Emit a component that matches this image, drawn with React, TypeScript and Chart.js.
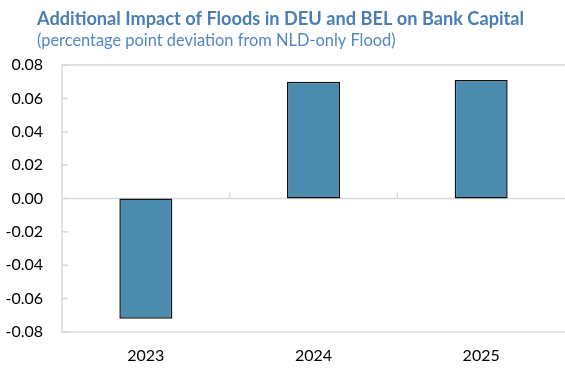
import React, { useEffect, useRef } from "react";
import { Chart, registerables } from "chart.js";

Chart.register(...registerables);

const categories = ["2023", "2024", "2025"];
const values = [-0.072, 0.07, 0.071];
const yTicks = [-0.08, -0.06, -0.04, -0.02, 0, 0.02, 0.04, 0.06, 0.08];
const titleText = "Additional Impact of Floods in DEU and BEL on Bank Capital";
const subtitleText = "(percentage point deviation from NLD-only Flood)";

const FONT = "Lato, 'Noto Sans', sans-serif";

const decorPlugin = {
  id: "decor",
  beforeDatasetsDraw(chart: any) {
    const { ctx, chartArea } = chart;
    const { left, right, top, bottom } = chartArea;
    const y = chart.scales.y;
    const x = chart.scales.x;
    ctx.save();
    ctx.strokeStyle = "#d9d9d9";
    ctx.lineWidth = 1.5;
    ctx.beginPath();
    ctx.moveTo(right + 5, top);
    ctx.lineTo(left, top);
    ctx.lineTo(left, bottom);
    ctx.lineTo(right + 5, bottom);
    ctx.stroke();
    // zero line
    const y0 = y.getPixelForValue(0);
    ctx.beginPath();
    ctx.moveTo(left, y0);
    ctx.lineTo(right + 5, y0);
    ctx.stroke();
    // y tick marks inside
    yTicks.forEach((v) => {
      const py = y.getPixelForValue(v);
      ctx.beginPath();
      ctx.moveTo(left, py);
      ctx.lineTo(left + 6, py);
      ctx.stroke();
    });
    // category boundary marks on zero line
    for (let i = 1; i < categories.length; i++) {
      const px = (x.getPixelForValue(i - 1) + x.getPixelForValue(i)) / 2;
      ctx.beginPath();
      ctx.moveTo(px, y0);
      ctx.lineTo(px, y0 - 6);
      ctx.stroke();
    }
    ctx.restore();
  },
  afterDraw(chart: any) {
    const { ctx } = chart;
    ctx.save();
    ctx.textAlign = "left";
    ctx.textBaseline = "alphabetic";
    ctx.fillStyle = "#4a7eb4";
    ctx.font = `bold 18.2px ${FONT}`;
    ctx.fillText(titleText, 37, 25);
    ctx.fillStyle = "#5288c2";
    ctx.font = `16.4px ${FONT}`;
    ctx.fillText(subtitleText, 37, 46);
    ctx.restore();
  },
};

export default function App() {
  const ref = useRef<HTMLCanvasElement | null>(null);
  useEffect(() => {
    if (!ref.current) return;
    const chart = new Chart(ref.current, {
      type: "bar",
      data: {
        labels: categories,
        datasets: [
          {
            data: values,
            backgroundColor: "#4b8bae",
            borderColor: "#111111",
            borderWidth: 1.5,
            borderSkipped: false,
            categoryPercentage: 1,
            barPercentage: 0.316,
          },
        ],
      },
      options: {
        animation: false,
        responsive: false,
        maintainAspectRatio: false,
        layout: { padding: { top: 65, right: 0, left: 0, bottom: 0 } },
        plugins: {
          legend: { display: false },
          title: { display: false },
          tooltip: { enabled: false },
        },
        scales: {
          x: {
            grid: { display: false, drawTicks: false },
            border: { display: false },
            ticks: { color: "#000", font: { family: FONT, size: 16 }, padding: 14 },
            afterFit: (s: any) => {
              s.height = 36;
            },
          },
          y: {
            min: -0.08,
            max: 0.08,
            grid: { display: false, drawTicks: false },
            border: { display: false },
            afterBuildTicks: (s: any) => {
              s.ticks = yTicks.map((v) => ({ value: v }));
            },
            ticks: {
              color: "#000",
              font: { family: FONT, size: 16 },
              padding: 19,
              callback: (v: any) => Number(v).toFixed(2),
            },
            afterFit: (s: any) => {
              s.width = 62;
            },
          },
        },
      },
      plugins: [decorPlugin],
    });
    return () => chart.destroy();
  }, []);
  return (
    <div style={{ position: "absolute", left: 0, top: 0, width: 565, height: 368, background: "#fff" }}>
      <canvas ref={ref} width={565} height={368} style={{ display: "block" }} />
    </div>
  );
}
